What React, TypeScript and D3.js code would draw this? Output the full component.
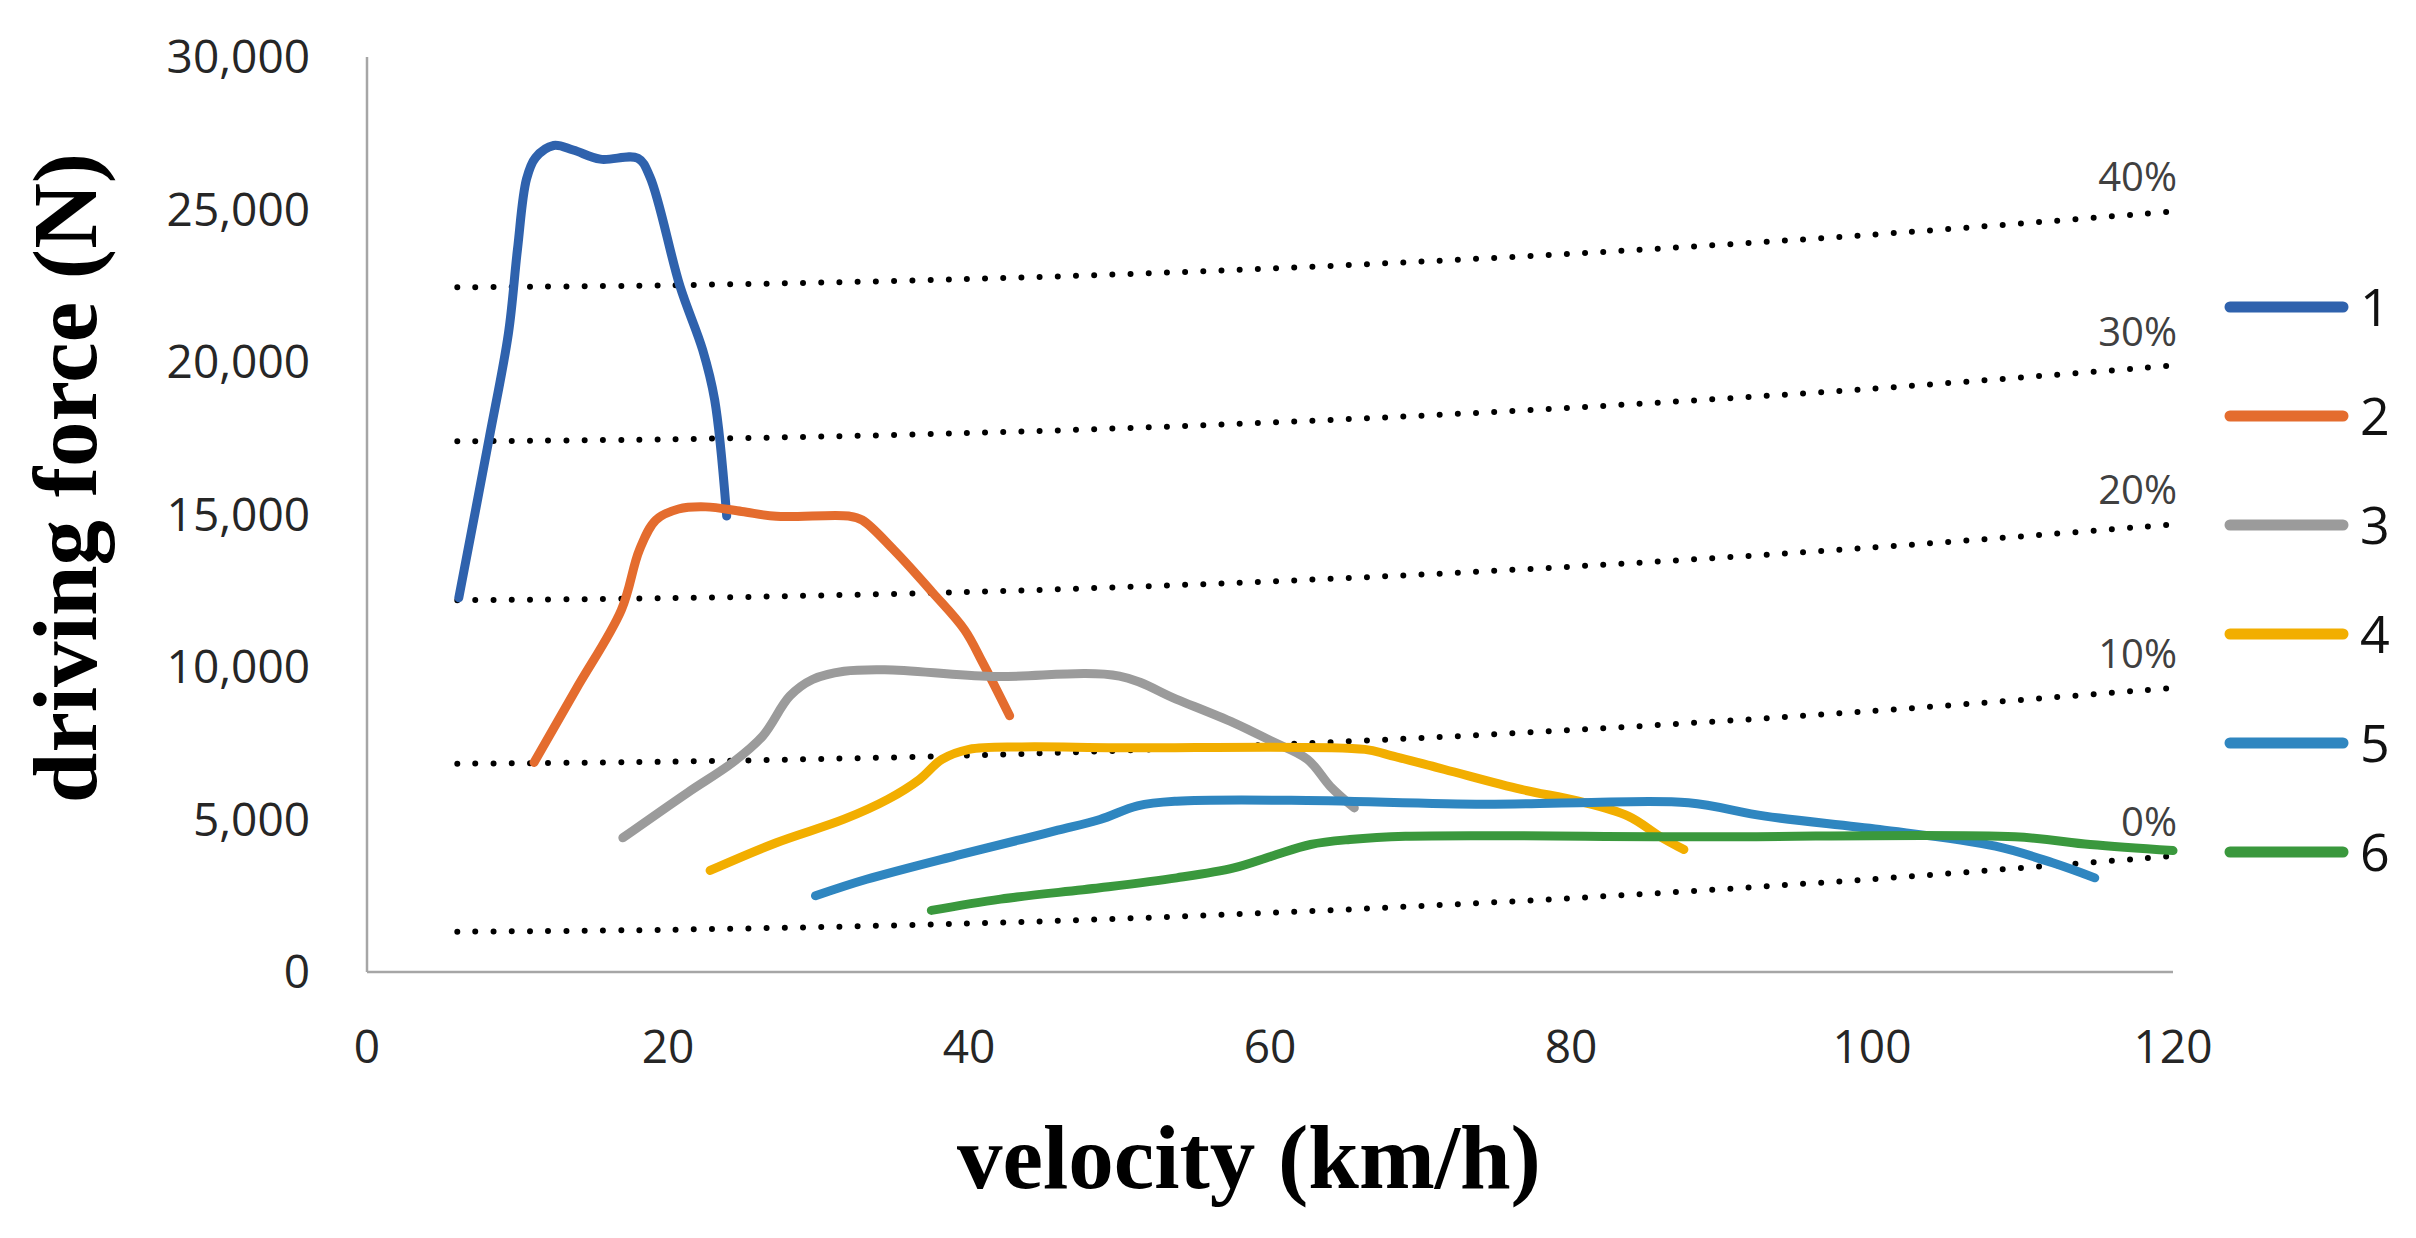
import * as d3 from "d3";

// traction curves, one per gear: [velocity km/h, driving force N]
const gear1: [number, number][] = [
  [6.1, 12270], [8.1, 17450], [9.4, 20950], [10.0, 23700], [10.6, 26000], [11.2, 26700],
  [12.4, 27100], [13.7, 26950], [15.5, 26650], [18.0, 26680], [18.8, 26070], [20.8, 22480],
  [22.3, 20400], [23.1, 18760], [23.9, 14950],
];
const gear2: [number, number][] = [
  [11.1, 6870], [13.9, 9280], [16.9, 11870], [18.1, 13840], [19.2, 14820], [20.7, 15180],
  [22.5, 15250], [24.9, 15100], [27.2, 14940], [32.0, 14950], [32.9, 14820], [35.0, 13840],
  [37.6, 12430], [39.7, 11220], [40.9, 10150], [42.7, 8400],
];
const gear3: [number, number][] = [
  [17.0, 4400], [21.3, 5880], [24.3, 6870], [26.3, 7740], [28.1, 9050], [29.6, 9590],
  [31.7, 9860], [34.4, 9910], [41.5, 9690], [50.0, 9700], [53.8, 8940], [57.6, 8170],
  [60.1, 7570], [62.5, 6970], [64.0, 6090], [65.6, 5380],
];
const gear4: [number, number][] = [
  [22.8, 3330], [27.2, 4240], [31.7, 5010], [34.6, 5660], [36.7, 6310], [38.2, 6970],
  [40.0, 7300], [43.5, 7380], [49.8, 7350], [66.3, 7300], [67.8, 7130], [71.6, 6640],
  [76.7, 5985], [80.5, 5600], [83.8, 5110], [85.9, 4450], [87.5, 4016],
];
const gear5: [number, number][] = [
  [29.8, 2500], [33.2, 3040], [39.1, 3810], [43.5, 4350], [45.9, 4650], [48.7, 5000],
  [51.2, 5450], [53.8, 5600], [61.4, 5630], [74.2, 5500], [80.5, 5550], [87.8, 5548],
  [92.9, 5110], [100.5, 4672], [108.2, 4125], [112.0, 3580], [114.8, 3087],
];
const gear6: [number, number][] = [
  [37.5, 2020], [42.1, 2390], [48.7, 2760], [53.8, 3087], [57.6, 3415], [60.1, 3796],
  [62.7, 4180], [65.3, 4344], [69.0, 4452], [88.6, 4432], [109.5, 4432], [114.5, 4180],
  [120.0, 3980],
];

const gearNames = ["1", "2", "3", "4", "5", "6"];
const gearColors = ["#2f62ad", "#e46c2e", "#9b9b9b", "#f2ae00", "#2f86c0", "#3a983d"];
const gears = [gear1, gear2, gear3, gear4, gear5, gear6];

// road resistance for each grade, read at these velocities
const resistVel = [6, 20, 40, 60, 80, 100, 120];
const grade0 = [1320, 1385, 1590, 1940, 2420, 3045, 3805];
const grade10 = [6830, 6895, 7100, 7450, 7930, 8555, 9315];
const grade20 = [12190, 12255, 12460, 12805, 13290, 13915, 14675];
const grade30 = [17400, 17465, 17670, 18015, 18500, 19125, 19885];
const grade40 = [22450, 22515, 22720, 23065, 23550, 24175, 24935];
const gradeLabels = ["0%", "10%", "20%", "30%", "40%"];
const grades = [grade0, grade10, grade20, grade30, grade40];

const xTicks = [0, 20, 40, 60, 80, 100, 120];
const yTicks = [0, 5000, 10000, 15000, 20000, 25000, 30000];

const W = 2416;
const H = 1238;
const tickFont = "'Open Sans', 'DejaVu Sans', sans-serif";
const titleFont = "'Liberation Serif', 'DejaVu Serif', serif";

export default function App() {
  const x = d3.scaleLinear().domain([0, 120]).range([367, 2173]);
  const y = d3.scaleLinear().domain([0, 30000]).range([972, 57]);
  const fmt = d3.format(",");

  const curve = d3
    .line<[number, number]>()
    .x((d) => x(d[0]))
    .y((d) => y(d[1]))
    .curve(d3.curveCatmullRom.alpha(0.5));

  const dotted = d3
    .line<number>()
    .x((_, i) => x(resistVel[i]))
    .y((d) => y(d))
    .curve(d3.curveCatmullRom.alpha(0.5));

  const legendTop = 307;
  const legendStep = 109;

  return (
    <svg
      width={W}
      height={H}
      viewBox={`0 0 ${W} ${H}`}
      style={{ position: "absolute", left: 0, top: 0, background: "#fff" }}
    >
      <rect width={W} height={H} fill="#fff" />

      {/* axes */}
      <line x1={x(0)} x2={x(0)} y1={y(30000)} y2={y(0)} stroke="#a6a6a6" strokeWidth={2.5} />
      <line x1={x(0)} x2={x(120)} y1={y(0)} y2={y(0)} stroke="#a6a6a6" strokeWidth={2.5} />

      {yTicks.map((t) => (
        <text
          key={"y" + t}
          x={310}
          y={y(t) + 16}
          textAnchor="end"
          fontFamily={tickFont}
          fontSize={46}
          fill="#262626"
        >
          {fmt(t)}
        </text>
      ))}
      {xTicks.map((t) => (
        <text
          key={"x" + t}
          x={x(t)}
          y={1063}
          textAnchor="middle"
          fontFamily={tickFont}
          fontSize={46}
          fill="#262626"
        >
          {t}
        </text>
      ))}

      {/* grade resistance lines */}
      {grades.map((g, i) => (
        <g key={"g" + i}>
          <path
            d={dotted(g) ?? ""}
            fill="none"
            stroke="#000"
            strokeWidth={6}
            strokeLinecap="round"
            strokeDasharray="0 18.2"
          />
          <text
            x={x(120) + 4}
            y={y(g[g.length - 1]) - 20}
            textAnchor="end"
            fontFamily={tickFont}
            fontSize={40}
            fill="#404040"
          >
            {gradeLabels[i]}
          </text>
        </g>
      ))}

      {/* traction curves */}
      {gears.map((s, i) => (
        <path
          key={"s" + i}
          d={curve(s) ?? ""}
          fill="none"
          stroke={gearColors[i]}
          strokeWidth={9}
          strokeLinecap="round"
          strokeLinejoin="round"
        />
      ))}

      {/* legend */}
      {gearNames.map((n, i) => {
        const ly = legendTop + i * legendStep;
        return (
          <g key={"l" + n}>
            <line
              x1={2230}
              x2={2343}
              y1={ly}
              y2={ly}
              stroke={gearColors[i]}
              strokeWidth={11}
              strokeLinecap="round"
            />
            <text x={2360} y={ly + 19} fontFamily={tickFont} fontSize={52} fill="#111">
              {n}
            </text>
          </g>
        );
      })}

      {/* axis titles */}
      <text
        transform="translate(96,478) rotate(-90)"
        textAnchor="middle"
        fontFamily={titleFont}
        fontWeight="bold"
        fontSize={91}
        fill="#000"
      >
        driving force (N)
      </text>
      <text
        x={1249}
        y={1188}
        textAnchor="middle"
        fontFamily={titleFont}
        fontWeight="bold"
        fontSize={91}
        fill="#000"
      >
        velocity (km/h)
      </text>
    </svg>
  );
}
